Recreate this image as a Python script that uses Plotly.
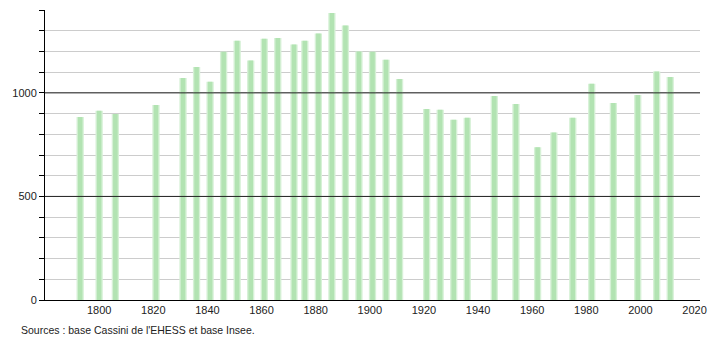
import plotly.graph_objects as go

years = [1793, 1800, 1806, 1821, 1831, 1836, 1841, 1846, 1851, 1856, 1861, 1866,
         1872, 1876, 1881, 1886, 1891, 1896, 1901, 1906, 1911, 1921, 1926, 1931,
         1936, 1946, 1954, 1962, 1968, 1975, 1982, 1990, 1999, 2006, 2011]
population = [883, 914, 898, 941, 1072, 1125, 1054, 1199, 1251, 1156, 1261, 1265,
              1233, 1251, 1286, 1386, 1325, 1200, 1199, 1160, 1067, 922, 919, 870,
              880, 985, 946, 737, 809, 880, 1044, 951, 990, 1103, 1077]
x_ticks = [1800, 1820, 1840, 1860, 1880, 1900, 1920, 1940, 1960, 1980, 2000, 2020]
y_ticks = [0, 500, 1000]
source_text = "Sources : base Cassini de l'EHESS et base Insee."

fig = go.Figure()
fig.add_trace(go.Bar(x=years, y=population, width=2.7,
                     marker=dict(color="#d6f1d6", line=dict(width=0)), hoverinfo="skip"))
fig.add_trace(go.Bar(x=years, y=population, width=1.7,
                     marker=dict(color="#b2e3b2", line=dict(width=0))))

for v in [500, 1000]:
    fig.add_shape(type="line", xref="paper", x0=0, x1=1, yref="y", y0=v, y1=v,
                  line=dict(color="#222222", width=1), layer="above")

fig.update_layout(
    width=710, height=340,
    margin=dict(l=45, r=10, t=10, b=40),
    barmode="overlay",
    showlegend=False,
    plot_bgcolor="white", paper_bgcolor="white",
    font=dict(family="Liberation Sans, Arial, sans-serif", size=11, color="#222222"),
    xaxis=dict(range=[1780, 2022], tickvals=x_ticks, ticks="", showgrid=False,
               showline=True, linecolor="#000000", linewidth=1, zeroline=False,
               automargin=False, tickfont=dict(size=11)),
    yaxis=dict(range=[0, 1400], tickvals=y_ticks, ticks="outside", ticklen=5,
               tickcolor="#000000", showgrid=False, showline=True,
               linecolor="#000000", linewidth=1, zeroline=False, automargin=False,
               minor=dict(dtick=100, showgrid=True, gridcolor="#cccccc", gridwidth=1,
                          ticks="outside", ticklen=5, tickcolor="#000000"),
               tickfont=dict(size=11)),
    annotations=[dict(text=source_text, xref="paper", yref="paper", x=-0.04, y=-0.075,
                      xanchor="left", yanchor="top", showarrow=False,
                      font=dict(size=10.5, color="#222222"))],
)

fig.write_html("out.html")
